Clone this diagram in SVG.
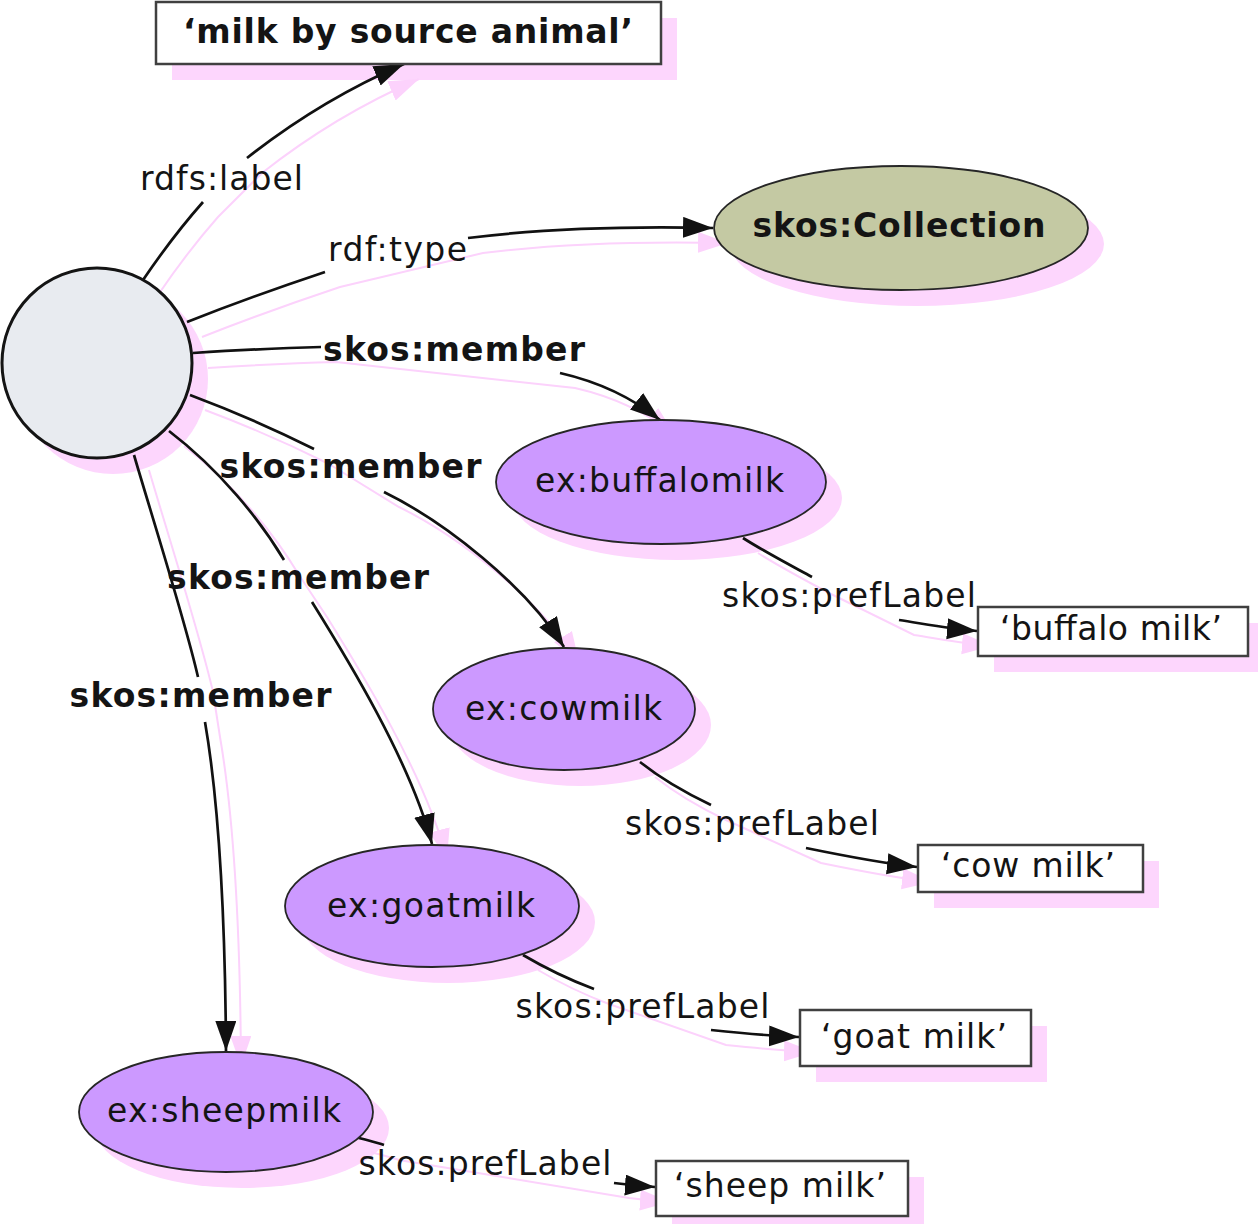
<svg xmlns="http://www.w3.org/2000/svg" xmlns:xlink="http://www.w3.org/1999/xlink" width="1258" height="1224" viewBox="0 0 1258 1224">
  <style>
    text { font-family: "DejaVu Sans", Verdana, "Liberation Sans", sans-serif; font-size: 33px; fill: #141414; }
    .b { font-weight: bold; }
    .shadow { fill: #fdd6fd; stroke: none; }
    .res { fill: #cc99ff; stroke: #262626; stroke-width: 1.8; }
    .cls { fill: #c4c9a3; stroke: #262626; stroke-width: 1.8; }
    .blank { fill: #e8ebf0; stroke: #141414; stroke-width: 3; }
    .lit { fill: #ffffff; stroke: #404040; stroke-width: 2.5; }
    .edge { fill: none; stroke: #111111; stroke-width: 2.7; marker-end: url(#arrow); }
    .edge-sh { fill: none; stroke: #fcd2fc; stroke-width: 2; marker-end: url(#arrow-sh); }
  </style>
  <defs>
    <marker id="arrow" markerUnits="userSpaceOnUse" markerWidth="32" markerHeight="24" refX="30" refY="10.5" orient="auto">
      <path d="M0,0 L30,10.5 L0,21 Z" fill="#111111"/>
    </marker>
    <marker id="arrow-sh" markerUnits="userSpaceOnUse" markerWidth="32" markerHeight="24" refX="30" refY="10.5" orient="auto">
      <path d="M0,0 L30,10.5 L0,21 Z" fill="#fcd2fc"/>
    </marker>
  </defs>

  <!-- drop shadows of the nodes -->
  <g id="node-shadows" transform="translate(16,16)">
    <rect class="shadow" x="156" y="2" width="505" height="62"/>
    <circle class="shadow" cx="97" cy="363" r="95"/>
    <ellipse class="shadow" cx="901" cy="228" rx="187" ry="62"/>
    <ellipse class="shadow" cx="661" cy="482" rx="165" ry="62"/>
    <ellipse class="shadow" cx="564" cy="709" rx="131" ry="61"/>
    <ellipse class="shadow" cx="432" cy="906" rx="147" ry="61"/>
    <ellipse class="shadow" cx="226" cy="1112" rx="147" ry="60"/>
    <rect class="shadow" x="978" y="607" width="270" height="49"/>
    <rect class="shadow" x="918" y="845" width="225" height="47"/>
    <rect class="shadow" x="800" y="1010" width="231" height="56"/>
    <rect class="shadow" x="656" y="1161" width="252" height="55"/>
  </g>

  <g id="connectors">
    <!-- shadows run unbroken under the labels -->
    <g transform="translate(15,15)">
      <path class="edge-sh" d="M143,280 C160,255 180,228 203,202 L247,158 C280,132 330,96 404,64"/>
      <path class="edge-sh" d="M187,322 C230,305 280,287 325,272 L468,238 C540,229 620,226 713,228"/>
      <path class="edge-sh" d="M193,353 C240,350 280,348 321,347 L560,373 C595,381 630,396 660,420"/>
      <path class="edge-sh" d="M190,395 C230,410 280,432 314,449 L384,492 C445,522 525,585 564,647"/>
      <path class="edge-sh" d="M169,431 C220,470 260,520 284,560 L312,602 C345,655 410,760 432,844"/>
      <path class="edge-sh" d="M134,455 C150,510 185,620 198,677 L205,722 C215,780 225,880 226,1051"/>
      <path class="edge-sh" d="M743,538 C765,552 790,565 812,577 L899,620 C925,624 950,629 977,631"/>
      <path class="edge-sh" d="M640,762 C660,778 690,795 711,805 L806,848 C845,856 880,863 917,867"/>
      <path class="edge-sh" d="M523,955 C545,968 570,980 594,989 L711,1030 C740,1033 770,1036 799,1037"/>
      <path class="edge-sh" d="M356,1137 C366,1140 376,1142 384,1145 L614,1183 C630,1185 640,1186 655,1187"/>
    </g>

    <!-- edges, broken where the property label sits -->
    <path class="edge" d="M143,280 C160,255 180,228 203,202 M247,158 C280,132 330,96 404,64"/>
    <path class="edge" d="M187,322 C230,305 280,287 325,272 M468,238 C540,229 620,226 713,228"/>
    <path class="edge" d="M193,353 C240,350 280,348 321,347 M560,373 C595,381 630,396 660,420"/>
    <path class="edge" d="M190,395 C230,410 280,432 314,449 M384,492 C445,522 525,585 564,647"/>
    <path class="edge" d="M169,431 C220,470 260,520 284,560 M312,602 C345,655 410,760 432,844"/>
    <path class="edge" d="M134,455 C150,510 185,620 198,677 M205,722 C215,780 225,880 226,1051"/>
    <path class="edge" d="M743,538 C765,552 790,565 812,577 M899,620 C925,624 950,629 977,631"/>
    <path class="edge" d="M640,762 C660,778 690,795 711,805 M806,848 C845,856 880,863 917,867"/>
    <path class="edge" d="M523,955 C545,968 570,980 594,989 M711,1030 C740,1033 770,1036 799,1037"/>
    <path class="edge" d="M356,1137 C366,1140 376,1142 384,1145 M614,1183 C630,1185 640,1186 655,1187"/>

    <!-- property labels -->
    <text x="221.5" y="190" text-anchor="middle" textLength="163" lengthAdjust="spacing">rdfs:label</text>
    <text x="397.5" y="261" text-anchor="middle" textLength="139" lengthAdjust="spacing">rdf:type</text>
    <text class="b" x="454" y="361" text-anchor="middle" textLength="262" lengthAdjust="spacing">skos:member</text>
    <text class="b" x="350.5" y="478" text-anchor="middle" textLength="262" lengthAdjust="spacing">skos:member</text>
    <text class="b" x="298" y="589" text-anchor="middle" textLength="262" lengthAdjust="spacing">skos:member</text>
    <text class="b" x="200.5" y="707" text-anchor="middle" textLength="262" lengthAdjust="spacing">skos:member</text>
    <text x="849" y="607" text-anchor="middle" textLength="254" lengthAdjust="spacing">skos:prefLabel</text>
    <text x="752" y="835" text-anchor="middle" textLength="254" lengthAdjust="spacing">skos:prefLabel</text>
    <text x="642.5" y="1018" text-anchor="middle" textLength="254" lengthAdjust="spacing">skos:prefLabel</text>
    <text x="485" y="1175" text-anchor="middle" textLength="253" lengthAdjust="spacing">skos:prefLabel</text>
  </g>

  <!-- nodes -->
  <g id="n-collection-label">
    <rect class="lit" x="156" y="2" width="505" height="62"/>
    <text class="b" x="408" y="43" text-anchor="middle" textLength="450" lengthAdjust="spacing">‘milk by source animal’</text>
  </g>
  <g id="n-collection">
    <circle class="blank" cx="97" cy="363" r="95"/>
  </g>
  <g id="n-skos-collection">
    <ellipse class="cls" cx="901" cy="228" rx="187" ry="62"/>
    <text class="b" x="899" y="237" text-anchor="middle" textLength="293" lengthAdjust="spacing">skos:Collection</text>
  </g>
  <g id="n-buffalomilk">
    <ellipse class="res" cx="661" cy="482" rx="165" ry="62"/>
    <text x="659.5" y="492" text-anchor="middle" textLength="249" lengthAdjust="spacing">ex:buffalomilk</text>
  </g>
  <g id="n-cowmilk">
    <ellipse class="res" cx="564" cy="709" rx="131" ry="61"/>
    <text x="563.5" y="720" text-anchor="middle" textLength="197" lengthAdjust="spacing">ex:cowmilk</text>
  </g>
  <g id="n-goatmilk">
    <ellipse class="res" cx="432" cy="906" rx="147" ry="61"/>
    <text x="431" y="917" text-anchor="middle" textLength="208" lengthAdjust="spacing">ex:goatmilk</text>
  </g>
  <g id="n-sheepmilk">
    <ellipse class="res" cx="226" cy="1112" rx="147" ry="60"/>
    <text x="224" y="1122" text-anchor="middle" textLength="234" lengthAdjust="spacing">ex:sheepmilk</text>
  </g>
  <g id="n-buffalo-label">
    <rect class="lit" x="978" y="607" width="270" height="49"/>
    <text x="1111" y="640" text-anchor="middle" textLength="222" lengthAdjust="spacing">‘buffalo milk’</text>
  </g>
  <g id="n-cow-label">
    <rect class="lit" x="918" y="845" width="225" height="47"/>
    <text x="1028" y="877" text-anchor="middle" textLength="174" lengthAdjust="spacing">‘cow milk’</text>
  </g>
  <g id="n-goat-label">
    <rect class="lit" x="800" y="1010" width="231" height="56"/>
    <text x="914" y="1048" text-anchor="middle" textLength="186" lengthAdjust="spacing">‘goat milk’</text>
  </g>
  <g id="n-sheep-label">
    <rect class="lit" x="656" y="1161" width="252" height="55"/>
    <text x="780" y="1197" text-anchor="middle" textLength="212" lengthAdjust="spacing">‘sheep milk’</text>
  </g>
</svg>
